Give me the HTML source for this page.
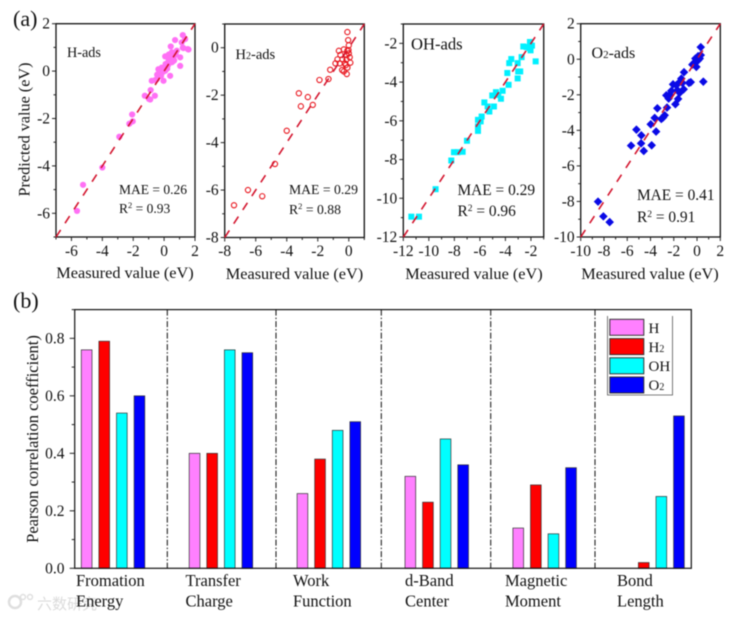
<!DOCTYPE html>
<html lang="en">
<head>
<meta charset="utf-8">
<title>Measured vs predicted adsorption and Pearson correlation</title>
<style>
  html, body { margin: 0; padding: 0; background: #fff; width: 738px; height: 618px; overflow: hidden; }
  svg { display: block; filter: blur(0.45px); }
  text { font-family: "Liberation Serif", "Noto Serif CJK SC", serif; fill: #111; }
</style>
</head>
<body>
<svg id="fig" xmlns="http://www.w3.org/2000/svg" width="738" height="618" viewBox="0 0 738 618">
  <text x="13" y="26" font-size="22">(a)</text>
  <text x="13" y="308" font-size="22">(b)</text>

  <text transform="translate(29.5,129.5) rotate(-90)" text-anchor="middle" font-size="16.2">Predicted value (eV)</text>
  <text x="125" y="278" text-anchor="middle" font-size="16.3">Measured value (eV)</text>
  <text x="294.5" y="279" text-anchor="middle" font-size="16.3">Measured value (eV)</text>
  <text x="474" y="279" text-anchor="middle" font-size="16.3">Measured value (eV)</text>
  <text x="650" y="279" text-anchor="middle" font-size="16.3">Measured value (eV)</text>

  <text x="67" y="57" font-size="14.2">H-ads</text>
  <text x="235.5" y="59" font-size="14.5">H<tspan font-size="10">2</tspan>-ads</text>
  <text x="411" y="49.5" font-size="16.6">OH-ads</text>
  <text x="591.5" y="58" font-size="16">O<tspan font-size="11">2</tspan>-ads</text>

  <text x="119" y="194" font-size="13.5">MAE = 0.26</text>
  <text x="119" y="213" font-size="13.5">R<tspan font-size="8.5" dy="-5">2</tspan><tspan dy="5"> = 0.93</tspan></text>
  <text x="289" y="194" font-size="13.7">MAE = 0.29</text>
  <text x="289" y="214" font-size="13.7">R<tspan font-size="8.5" dy="-5">2</tspan><tspan dy="5"> = 0.88</tspan></text>
  <text x="457.5" y="195" font-size="15.4">MAE = 0.29</text>
  <text x="457.5" y="216" font-size="15.4">R<tspan font-size="9.5" dy="-5">2</tspan><tspan dy="5"> = 0.96</tspan></text>
  <text x="637" y="200" font-size="15.4">MAE = 0.41</text>
  <text x="637" y="222" font-size="15.4">R<tspan font-size="9.5" dy="-5">2</tspan><tspan dy="5"> = 0.91</tspan></text>

  <text transform="translate(38,439) rotate(-90)" text-anchor="middle" font-size="16.5">Pearson correlation coefficient)</text>

  <g id="watermark" opacity="0.9">
    <circle cx="15" cy="602" r="6" fill="none" stroke="#dcdcdc" stroke-width="2.5"/>
    <circle cx="23" cy="597" r="2.5" fill="none" stroke="#dcdcdc" stroke-width="1.4"/>
    <circle cx="30" cy="597" r="2.5" fill="none" stroke="#dcdcdc" stroke-width="1.4"/>
    <text x="37" y="609" font-size="15" style="fill:#d8d8d8;font-family:'Noto Sans CJK SC',sans-serif">六数研究</text>
  </g>

  <text font-size="16.5" x="76" y="586">Fromation<tspan x="76" y="606.5">Energy</tspan></text>
  <text font-size="16.5" x="185.5" y="586">Transfer<tspan x="185.5" y="606.5">Charge</tspan></text>
  <text font-size="16.5" x="293" y="586">Work<tspan x="293" y="606.5">Function</tspan></text>
  <text font-size="16.5" x="405" y="586">d-Band<tspan x="405" y="606.5">Center</tspan></text>
  <text font-size="16.5" x="505" y="586">Magnetic<tspan x="505" y="606.5">Moment</tspan></text>
  <text font-size="16.5" x="617" y="586">Bond<tspan x="617" y="606.5">Length</tspan></text>

  <g id="legend">
    <path d="M607.5 316V395H672.5V316" fill="none" stroke="#555" stroke-width="0.8"/>
    <rect x="609.8" y="319.3" width="34" height="16" fill="#ff80ff" stroke="#333" stroke-width="1"/>
    <rect x="609.8" y="338.6" width="34" height="16" fill="#ff0000" stroke="#333" stroke-width="1"/>
    <rect x="609.8" y="357.8" width="34" height="16" fill="#00ffff" stroke="#333" stroke-width="1"/>
    <rect x="609.8" y="377" width="34" height="16" fill="#0000ff" stroke="#333" stroke-width="1"/>
    <text x="648.5" y="333" font-size="15">H</text>
    <text x="648.5" y="352" font-size="15">H<tspan font-size="10">2</tspan></text>
    <text x="648.5" y="371" font-size="15">OH</text>
    <text x="648.5" y="390" font-size="15">O<tspan font-size="10">2</tspan></text>
  </g>
</svg>

<script>
// ---- Scatter data (measured / predicted, eV) ----
const hMeasured = [-5.64,-5.25,-4.0,-2.9,-2.25,-2.03,-2.07,1.21,0.71,1.36,1.14,0.43,1.25,1.58,0.82,0.5,0.07,0.43,1.04,0.6,0.5,1.04,0.17,-0.15,-0.37,0.07,0.39,-0.26,-0.47,-0.04,-0.8,-0.58,-0.6,-1.25,-0.97,-0.87,1.53,1.21,0.1,0.2,0.3,-0.1,0.0,-0.2,-0.45,0.3,0.55,-0.9,0.05,0.25,0.45,0.65,-0.3,0.75];
const hPredicted = [-5.9,-4.8,-4.07,-2.77,-2.22,-2.12,-1.83,1.52,1.31,1.35,1.21,1.04,0.97,0.91,0.86,0.79,0.62,0.65,0.58,0.58,0.37,0.22,0.22,0.15,0.08,0.01,-0.2,-0.13,-0.34,-0.41,-0.41,-0.38,-1.04,-1.04,-1.18,-0.8,0.93,0.99,0.3,0.1,0.45,-0.05,0.15,-0.2,-0.15,0.7,0.4,-1.2,0.05,0.25,0.55,0.45,-0.05,0.7];

const h2Measured = [-7.4,-6.5,-5.58,-4.76,-4.0,-3.22,-3.09,-2.64,-2.32,-1.89,-1.31,-1.2,-0.09,-0.04,-0.64,-0.32,-0.1,0.0,-0.54,-0.15,0.0,-0.73,-0.41,-0.15,0.06,-0.86,-0.58,-0.26,0.1,-0.43,-0.09,-0.32,-0.13,-0.19,-0.02];
const h2Predicted = [-6.64,-6.0,-6.26,-4.9,-3.5,-1.92,-2.47,-2.08,-2.41,-1.36,-1.32,-0.93,0.66,0.32,-0.13,-0.07,-0.13,0.1,-0.3,-0.3,-0.24,-0.49,-0.49,-0.49,-0.4,-0.66,-0.66,-0.66,-0.63,-0.94,-0.84,-1.0,-1.11,-0.73,-0.1];

const ohMeasured = [-11.37,-10.77,-9.47,-7.01,-8.24,-8.03,-7.74,-7.35,-6.15,-6.15,-6.15,-5.86,-5.94,-5.65,-5.39,-5.26,-4.9,-5.03,-4.74,-4.56,-4.22,-4.35,-3.85,-3.75,-3.7,-3.54,-3.04,-3.0,-2.84,-3.04,-2.73,-2.6,-2.34,-2.08,-2.03,-2.13,-1.92,-1.63];
const ohPredicted = [-10.95,-10.95,-9.53,-7.03,-8.05,-7.62,-7.62,-7.6,-6.52,-6.29,-5.95,-5.78,-6.03,-5.05,-5.26,-5.52,-5.26,-4.69,-4.52,-4.66,-4.45,-4.86,-3.53,-4.14,-3.02,-2.81,-3.81,-3.45,-3.45,-3.02,-2.71,-2.16,-2.19,-1.93,-2.36,-2.24,-2.12,-2.93];

const o2Measured = [-8.51,-8.05,-7.51,-5.67,-5.21,-4.79,-4.81,-4.58,-3.9,-3.52,-3.98,-3.64,-3.41,-3.07,-2.78,-2.92,-2.58,-2.64,-2.35,-2.44,-2.21,-2.06,-1.86,-1.63,-1.69,-1.78,-1.49,-1.35,-1.15,-1.49,-1.26,-1.12,-0.69,-0.54,0.54,0.32,-0.4,-0.06,-0.26,-0.14,0.09,0.23,0.32,0.09];
const o2Predicted = [-8.01,-8.84,-9.16,-4.86,-3.96,-4.28,-4.73,-5.16,-4.84,-4.07,-3.66,-3.3,-2.76,-3.36,-3.15,-3.28,-2.72,-2.03,-1.99,-2.21,-1.78,-1.41,-2.53,-2.23,-1.74,-1.46,-1.28,-1.09,-1.69,-1.89,-1.33,-0.73,-1.33,-1.29,-1.26,0.68,-0.3,-0.43,-0.21,0.04,0.17,0.04,0.23,-0.06];

// ---- Tick labels ----
const hTicks = [-6,-4,-2,0,2];
const h2Ticks = [-8,-6,-4,-2,0];
const ohTicks = [-12,-10,-8,-6,-4,-2];
const o2Ticks = [-10,-8,-6,-4,-2,0,2];

// ---- Bar chart data ----
const barCategories = ['Formation Energy','Transfer Charge','Work Function','d-Band Center','Magnetic Moment','Bond Length'];
const barH  = [0.76,0.40,0.26,0.32,0.14,0.00];
const barH2 = [0.79,0.40,0.38,0.23,0.29,0.02];
const barOH = [0.54,0.76,0.48,0.45,0.12,0.25];
const barO2 = [0.60,0.75,0.51,0.36,0.35,0.53];
const pearsonTicks = [0.0,0.2,0.4,0.6,0.8];

const NS = 'http://www.w3.org/2000/svg';
const fig = document.getElementById('fig');

function svgEl(tag, attrs) {
  const el = document.createElementNS(NS, tag);
  for (const k in attrs) el.setAttribute(k, attrs[k]);
  fig.appendChild(el);
  return el;
}

function drawScatter(id, box, domain, ticks, measured, predicted, marker, tickFont) {
  const sx = v => box.l + (v - domain[0]) / (domain[1] - domain[0]) * (box.r - box.l);
  const sy = v => box.b - (v - domain[0]) / (domain[1] - domain[0]) * (box.b - box.t);

  const frame = svgEl('rect', {x: box.l, y: box.t, width: box.r - box.l, height: box.b - box.t, fill: 'none', stroke: '#111', 'stroke-width': 1.3});
  
  

  const step = ticks[1] - ticks[0];
  for (let v = ticks[0] - step / 2; v <= domain[1] + 1e-6; v += step / 2) {
    if (v < domain[0] - 1e-6) continue;
    const major = ticks.some(t => Math.abs(t - v) < 1e-6);
    const len = major ? 4 : 2.5;
    const tx = svgEl('line', {x1: sx(v), x2: sx(v), y1: box.b, y2: box.b + len, stroke: '#222', 'stroke-width': 1});
    
    
    const ty = svgEl('line', {x1: box.l - len, x2: box.l, y1: sy(v), y2: sy(v), stroke: '#222', 'stroke-width': 1});
    
    
  }

  ticks.forEach(t => {
    const lx = svgEl('text', {x: sx(t), y: 256, 'text-anchor': 'middle', 'font-size': tickFont});
    
    
    lx.textContent = String(t);
    const ly = svgEl('text', {x: box.l - 6, y: sy(t) + 5, 'text-anchor': 'end', 'font-size': tickFont});
    
    
    ly.textContent = String(t);
  });

  measured.forEach((m, i) => {
    const x = sx(m), y = sy(predicted[i]);
    let el;
    if (marker === 'disc') {
      el = svgEl('circle', {cx: x, cy: y, r: 3.1, fill: '#ff70f5'});
    } else if (marker === 'ring') {
      el = svgEl('circle', {cx: x, cy: y, r: 2.6, fill: 'none', stroke: '#e8141c', 'stroke-width': 1.1});
    } else if (marker === 'square') {
      el = svgEl('rect', {x: x - 3, y: y - 3, width: 6, height: 6, fill: '#00f0ff'});
    } else {
      el = svgEl('path', {d: 'M' + x + ' ' + (y - 4.3) + 'L' + (x + 4.3) + ' ' + y + 'L' + x + ' ' + (y + 4.3) + 'L' + (x - 4.3) + ' ' + y + 'Z', fill: '#0a0ae6'});
    }
    
    
  });

  const diag = svgEl('line', {x1: sx(domain[0]), y1: sy(domain[0]), x2: sx(domain[1]), y2: sy(domain[1]), stroke: '#d3152e', 'stroke-width': 1.6, 'stroke-dasharray': '8.5 8'});
  
  
}

drawScatter('h-panel',  {l: 56,    r: 195,   t: 23.7, b: 237}, [-7, 2],   hTicks,  hMeasured,  hPredicted,  'disc',    15.5);
drawScatter('h2-panel', {l: 224.7, r: 364.3, t: 24,   b: 237.5}, [-8, 1], h2Ticks, h2Measured, h2Predicted, 'ring',    15.5);
drawScatter('oh-panel', {l: 403.3, r: 543.7, t: 24,   b: 237}, [-12, -1], ohTicks, ohMeasured, ohPredicted, 'square',  15.5);
drawScatter('o2-panel', {l: 580.7, r: 720.3, t: 23.7, b: 237}, [-10, 2],  o2Ticks, o2Measured, o2Predicted, 'diamond', 15.5);

// ---- Pearson bar chart ----
(function () {
  const left = 74.7, right = 691.3, top = 309.6, base = 568.3;
  const yMax = 0.9;
  const sy = v => base - v / yMax * (base - top);
  const groupX = i => 81.3 + i * 107.9;
  const barStep = 17.6, barW = 10.7;
  const seriesList = [
    {key: 'h', values: barH, color: '#ff80ff'},
    {key: 'h2', values: barH2, color: '#ff0000'},
    {key: 'oh', values: barOH, color: '#00ffff'},
    {key: 'o2', values: barO2, color: '#0000ff'}
  ];

  // Dash-dot separators between categories (drawing furniture, not data)
  [167.3, 276, 381.3, 490.7, 595].forEach(x => {
    const line = svgEl('line', {x1: x, x2: x, y1: top, y2: base, stroke: '#222', 'stroke-width': 1.1, 'stroke-dasharray': '6 2 1.5 2'});
    
    
  });

  barCategories.forEach((cat, c) => {
    seriesList.forEach((s, j) => {
      const v = s.values[c];
      if (v <= 0) return;
      const bar = svgEl('rect', {x: groupX(c) + j * barStep, y: sy(v), width: barW, height: base - sy(v), fill: s.color, stroke: '#333', 'stroke-width': 0.7});
      
      
    });
  });

  const frame = svgEl('rect', {x: left, y: top, width: right - left, height: base - top, fill: 'none', stroke: '#111', 'stroke-width': 1.2});
  
  

  pearsonTicks.forEach(t => {
    const tick = svgEl('line', {x1: left - 5, x2: left, y1: sy(t), y2: sy(t), stroke: '#222', 'stroke-width': 1});
    
    
    const minor = svgEl('line', {x1: left - 3, x2: left, y1: sy(t + 0.1), y2: sy(t + 0.1), stroke: '#222', 'stroke-width': 1});
    
    
    const label = svgEl('text', {x: 64.5, y: sy(t) + 5, 'text-anchor': 'end', 'font-size': 15.5});
    
    
    label.textContent = t.toFixed(1);
  });
})();
</script>
</body>
</html>
